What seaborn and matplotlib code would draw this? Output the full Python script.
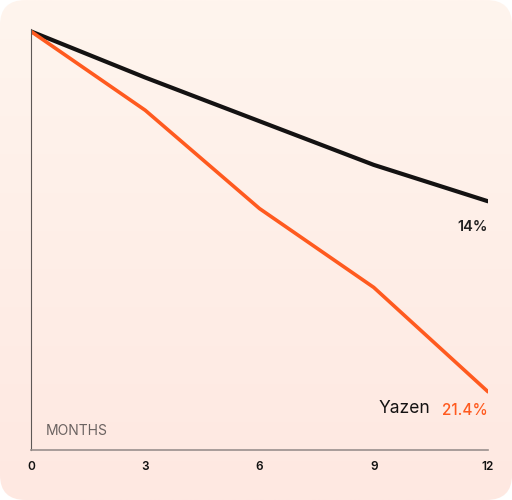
import numpy as np
import pandas as pd
import seaborn as sns
import matplotlib.pyplot as plt
from matplotlib.patches import FancyBboxPatch

# Data (index, start = 100)
months = [0, 3, 6, 9, 12]
market = [100.0, 96.2, 92.6, 89.0, 86.0]
yazen = [100.0, 93.5, 85.4, 78.9, 70.3]
month_ticks = ["0", "3", "6", "9", "12"]

df = pd.DataFrame({
    "month": months * 2,
    "value": market + yazen,
    "series": ["market"] * len(months) + ["yazen"] * len(months),
})

sns.set_theme(style="white")
plt.rcParams["font.family"] = ["Inter", "DejaVu Sans"]

fig = plt.figure(figsize=(5.12, 5.0), dpi=100)
fig.patch.set_facecolor("white")

# rounded card with a soft vertical gradient
bg = fig.add_axes([0, 0, 1, 1])
bg.set_xlim(0, 1)
bg.set_ylim(0, 1)
bg.axis("off")
grad = np.linspace(0, 1, 256).reshape(-1, 1)
top = np.array([255, 245, 238]) / 255
bottom = np.array([254, 232, 225]) / 255
img = top + (bottom - top) * grad[..., None]
im = bg.imshow(img, extent=[0, 1, 0, 1], aspect="auto", origin="upper", zorder=0)
card = FancyBboxPatch((0, 0), 1, 1, boxstyle="round,pad=0,rounding_size=0.05",
                      transform=bg.transAxes, facecolor="none", edgecolor="none")
bg.add_patch(card)
im.set_clip_path(card)

ax = fig.add_axes([31 / 512, 0.1, (488 - 31) / 512, (450 - 29) / 500])
ax.patch.set_alpha(0)

sns.lineplot(data=df, x="month", y="value", hue="series",
             palette={"market": "#141212", "yazen": "#FF5A1F"},
             linewidth=2.8, legend=False, ax=ax)
for line, lw in zip(ax.lines, [3.0, 2.6]):
    line.set_linewidth(lw)
    line.set_solid_capstyle("round")

ax.set_xlim(0, 12)
ax.set_ylim(65.5, 100.2)
ax.set_xticks(months)
ax.set_xticklabels(month_ticks, fontsize=8.5, fontweight="semibold", color="#111111")
ax.tick_params(axis="x", length=0, pad=8)
ax.set_yticks([])
ax.set_xlabel("")
ax.set_ylabel("")

for side in ["top", "right"]:
    ax.spines[side].set_visible(False)
ax.spines["left"].set_color("#5e5856")
ax.spines["left"].set_linewidth(0.8)
ax.spines["bottom"].set_color("#9a908d")
ax.spines["bottom"].set_linewidth(1.2)

ax.text(0.032, 0.045, "MONTHS", transform=ax.transAxes, fontsize=10,
        color="#6b6361", ha="left", va="center")
ax.text(1.0, 0.53, "14%", transform=ax.transAxes, fontsize=10.5,
        fontweight="semibold", color="#222222", ha="right", va="center")
ax.text(1.0, 0.095, "21.4%", transform=ax.transAxes, fontsize=11,
        fontweight="medium", color="#FF5A1F", ha="right", va="center")
ax.text(0.76, 0.098, "Yazen", transform=ax.transAxes, fontsize=12.5,
        color="#141212", ha="left", va="center")

fig.savefig("out.png", dpi=100)
